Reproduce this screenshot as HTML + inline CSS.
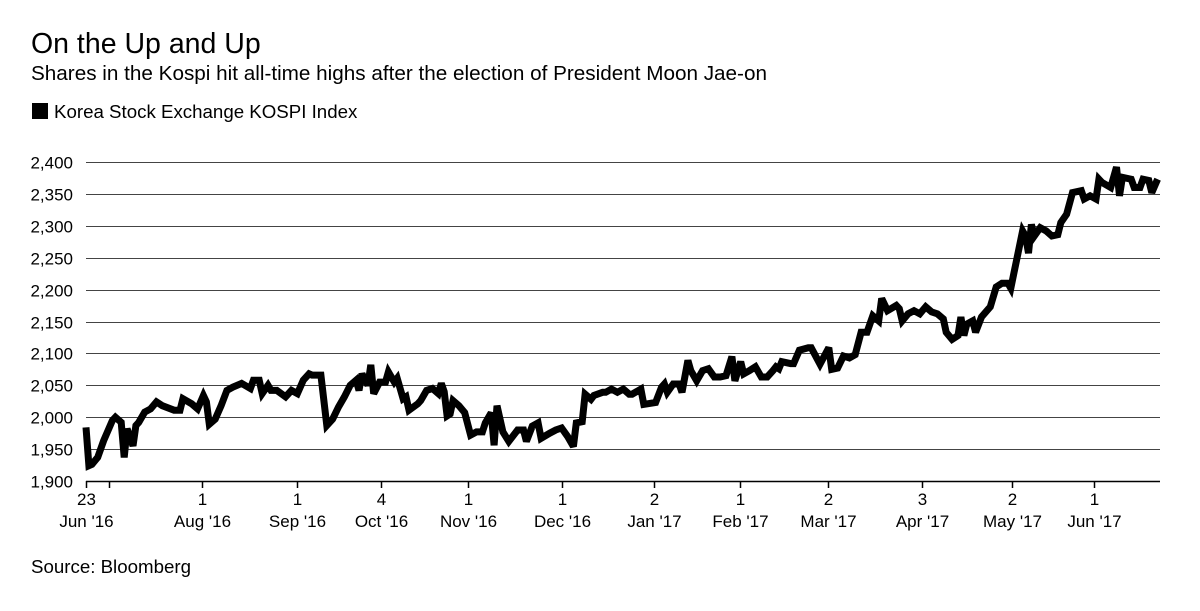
<!DOCTYPE html>
<html><head><meta charset="utf-8"><style>
body{margin:0;background:#fff;font-family:"Liberation Sans",Arial,sans-serif;}
#wrap{position:relative;width:1200px;height:611px;overflow:hidden;}
.t{position:absolute;color:#000;white-space:nowrap;}
</style></head><body>
<div id="wrap">
<div class="t" style="left:31px;top:28px;font-size:28.5px;">On the Up and Up</div>
<div class="t" style="left:31px;top:62px;font-size:20.7px;">Shares in the Kospi hit all-time highs after the election of President Moon Jae-on</div>
<div style="position:absolute;left:32px;top:103px;width:16px;height:16px;background:#000;"></div>
<div class="t" style="left:54px;top:101px;font-size:18.7px;">Korea Stock Exchange KOSPI Index</div>
<div class="t" style="left:31px;top:556px;font-size:18.7px;">Source: Bloomberg</div>
<svg id="chart" width="1200" height="611" style="position:absolute;left:0;top:0"></svg>
</div>
<script>
const yTicks=[1900,1950,2000,2050,2100,2150,2200,2250,2300,2350,2400];
const xTickDays=[0,8,39.5,71.9,100.5,130.1,162.1,193.5,222.8,252.7,284.7,315.4,343.3];
const xTickTop=["23","","1","1","4","1","1","2","1","2","3","2","1"];
const xTickBottom=["Jun '16","","Aug '16","Sep '16","Oct '16","Nov '16","Dec '16","Jan '17","Feb '17","Mar '17","Apr '17","May '17","Jun '17"];
const days=[0,1,2,4,6,9,10,12,13,14,16,17,18,20,22,24,26,30,32,33,36,38,40,41,42,44,46,48,50,53,56,57,59,60,62,63,65,68,70,72,74,76,77,80,82,84,86,88,90,92,93,94,96,97,98,100,102,103,105,106,108,109,110,113,114,116,118,120,121,122,123,124,125,127,129,131,133,135,136,138,139,140,142,144,147,149,150,152,154,155,158,160,162,164,166,167,169,170,172,173,176,177,179,181,183,185,186,189,190,194,196,197,198,200,202,203,205,206,208,210,212,214,216,218,220,221,223,224,226,228,230,232,234,235,236,237,240,241,243,246,247,250,253,254,256,258,260,262,264,266,268,270,271,273,276,277,278,280,282,284,286,288,290,292,293,295,297,298,299,300,302,303,305,308,310,312,314,315,316,317,319,320,321,322,323,325,327,329,331,332,334,336,339,340,342,344,345,346,349,351,352,353,356,357,359,360,362,363,365];
const values=[1984,1924,1926,1937,1963,1995,2000,1992,1937,1982,1955,1987,1992,2008,2013,2024,2018,2011,2011,2029,2021,2013,2034,2024,1989,1997,2018,2042,2047,2053,2045,2058,2058,2037,2050,2042,2042,2032,2042,2037,2058,2068,2066,2066,1987,1997,2016,2032,2050,2058,2042,2068,2050,2082,2037,2055,2055,2071,2055,2061,2029,2032,2011,2021,2026,2042,2045,2037,2053,2040,2002,2005,2026,2018,2007,1972,1977,1977,1991,2007,1956,2018,1977,1962,1980,1980,1962,1986,1991,1967,1975,1980,1983,1970,1954,1991,1993,2036,2028,2034,2039,2039,2044,2039,2044,2036,2036,2044,2020,2023,2047,2052,2039,2052,2052,2039,2089,2073,2057,2073,2076,2063,2063,2065,2095,2057,2087,2068,2073,2079,2063,2063,2073,2079,2076,2087,2084,2084,2105,2109,2109,2083,2109,2075,2077,2096,2093,2098,2133,2133,2159,2151,2186,2167,2175,2170,2151,2162,2167,2162,2173,2165,2162,2154,2133,2122,2128,2157,2128,2146,2151,2133,2157,2173,2204,2210,2210,2202,2225,2247,2292,2284,2257,2302,2284,2297,2292,2284,2286,2305,2318,2352,2355,2342,2347,2342,2373,2368,2360,2392,2347,2376,2373,2360,2360,2373,2371,2352,2373];
const NS="http://www.w3.org/2000/svg";
const svg=document.getElementById('chart');
const X0=86,X1=1160,Y0=481,Y1=162;
function xScale(d){return X0+d*2.936;}
function yScale(v){return Y0-(v-1900)/(2400-1900)*(Y0-Y1);}
function mk(tag,attrs){const e=document.createElementNS(NS,tag);for(const k in attrs)e.setAttribute(k,attrs[k]);svg.appendChild(e);return e;}
yTicks.forEach(v=>{
  const y=Math.round(yScale(v))+0.5;
  const g=mk('line',{x1:X0,x2:X1,y1:y,y2:y,stroke:v===1900?'#000':'#444','stroke-width':v===1900?1.5:1});
  
  
  const t=mk('text',{x:73,y:y+6,'text-anchor':'end','font-size':17,'font-family':'Liberation Sans, Arial, sans-serif',fill:'#000'});
  t.textContent=v.toLocaleString('en-US');
  
  
});
xTickDays.forEach((d,i)=>{
  const x=Math.round(xScale(d))+0.5;
  const tk=mk('line',{x1:x,x2:x,y1:Y0,y2:Y0+7,stroke:'#000','stroke-width':1.5});
  
  
  if(xTickTop[i]){
    const t1=mk('text',{x:x,y:505,'text-anchor':'middle','font-size':17,'font-family':'Liberation Sans, Arial, sans-serif'});
    t1.textContent=xTickTop[i];
    
    
    const t2=mk('text',{x:x,y:527,'text-anchor':'middle','font-size':17,'font-family':'Liberation Sans, Arial, sans-serif'});
    t2.textContent=xTickBottom[i];
    
    
  }
});
const pts=days.map((d,i)=>xScale(d).toFixed(1)+','+yScale(values[i]).toFixed(1)).join(' ');
const line=mk('polyline',{points:pts,fill:'none',stroke:'#000','stroke-width':7,'stroke-linejoin':'miter','stroke-miterlimit':3});


</script>
</body></html>
